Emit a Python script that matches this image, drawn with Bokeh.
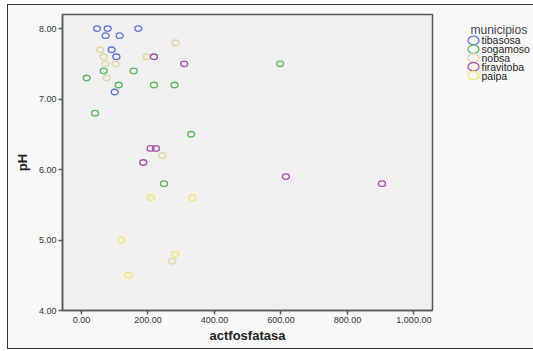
from bokeh.plotting import figure
from bokeh.layouts import row
from bokeh.models import Range1d, FixedTicker, NumeralTickFormatter, ColumnDataSource
from bokeh.core.properties import value
from bokeh.embed import file_html
from bokeh.resources import INLINE

municipios = ["tibasosa", "sogamoso", "nobsa", "firavitoba", "paipa"]
colors = ["#6277d4", "#5ab85f", "#ddd6a6", "#a650a8", "#f0e672"]

tibasosa_x = [47, 79, 171, 73, 115, 91, 105, 100]
tibasosa_y = [8.0, 8.0, 8.0, 7.9, 7.9, 7.7, 7.6, 7.1]
sogamoso_x = [16, 67, 157, 112, 218, 280, 41, 330, 598, 248]
sogamoso_y = [7.3, 7.4, 7.4, 7.2, 7.2, 7.2, 6.8, 6.5, 7.5, 5.8]
nobsa_x = [57, 67, 72, 103, 76, 196, 283, 244, 273]
nobsa_y = [7.7, 7.6, 7.5, 7.5, 7.3, 7.6, 7.8, 6.2, 4.7]
firavitoba_x = [218, 309, 208, 224, 186, 615, 904]
firavitoba_y = [7.6, 7.5, 6.3, 6.3, 6.1, 5.9, 5.8]
paipa_x = [209, 334, 120, 282, 142]
paipa_y = [5.6, 5.6, 5.0, 4.8, 4.5]

series = [(tibasosa_x, tibasosa_y), (sogamoso_x, sogamoso_y), (nobsa_x, nobsa_y),
          (firavitoba_x, firavitoba_y), (paipa_x, paipa_y)]

x_ticks = [0, 200, 400, 600, 800, 1000]
y_ticks = [4, 5, 6, 7, 8]

BG_OUT = "#f8f8f8"

p = figure(width=426, height=343, output_backend="svg", toolbar_location=None,
           x_range=Range1d(-57, 1056), y_range=Range1d(4.0, 8.2),
           min_border_left=54, min_border_top=9, min_border_right=2, min_border_bottom=38)
p.background_fill_color = "#f0f0f0"
p.border_fill_color = BG_OUT
p.outline_line_color = "#5a5a5a"
p.outline_line_width = 1.5
p.xgrid.visible = False
p.ygrid.visible = False

for name, col, (xs, ys) in zip(municipios, colors, series):
    src = ColumnDataSource(dict(x=xs, y=ys))
    p.ellipse("x", "y", source=src, width=7, height=5.5,
              width_units="screen", height_units="screen",
              fill_alpha=0, line_color=col, line_width=1.4)

for ax in (p.xaxis[0], p.yaxis[0]):
    ax.axis_line_color = "#5a5a5a"
    ax.axis_line_width = 1.5
    ax.major_tick_line_color = "#5a5a5a"
    ax.major_tick_line_width = 1.5
    ax.major_tick_out = 4
    ax.major_tick_in = 0
    ax.minor_tick_line_color = None
    ax.major_label_text_font = "Liberation Sans"
    ax.major_label_text_font_size = "9px"
    ax.major_label_text_color = "#333333"
    ax.axis_label_text_font = "Liberation Sans"
    ax.axis_label_text_font_size = "13px"
    ax.axis_label_text_font_style = "bold"
    ax.axis_label_text_color = "#222222"
    ax.formatter = NumeralTickFormatter(format="0,0.00")

p.xaxis[0].ticker = FixedTicker(ticks=x_ticks)
p.yaxis[0].ticker = FixedTicker(ticks=y_ticks)
p.xaxis.axis_label = "actfosfatasa"
p.yaxis.axis_label = "pH"
p.xaxis.major_label_standoff = 2
p.xaxis.axis_label_standoff = 2
p.yaxis.major_label_standoff = 2
p.yaxis.axis_label_standoff = 6

# legend panel
lg = figure(width=99, height=343, output_backend="svg", toolbar_location=None,
            x_range=Range1d(0, 99), y_range=Range1d(343, 0),
            min_border=0, x_axis_type=None, y_axis_type=None)
lg.background_fill_color = BG_OUT
lg.border_fill_color = BG_OUT
lg.outline_line_color = None
lg.xgrid.visible = False
lg.ygrid.visible = False

item_y = [30 + i * 10.2 for i in range(len(municipios))]
leg_src = ColumnDataSource(dict(gx=[39] * len(municipios), lx=[47] * len(municipios),
                                y=item_y, label=municipios, color=colors))
lg.ellipse("gx", "y", source=leg_src, width=11, height=8.5,
           width_units="screen", height_units="screen",
           fill_alpha=0, line_color="color", line_width=1.3)
lg.text("lx", "y", text="label", source=leg_src, text_font=value("Liberation Sans"),
        text_font_size="10.5px", text_baseline="middle", text_align="left",
        text_color="#222222")
lg.text(x=[36], y=[18], text=["municipios"], text_font=value("Liberation Sans"),
        text_font_size="12px", text_baseline="middle", text_align="left",
        text_color="#444444")

layout = row(p, lg, spacing=0)
layout.styles = {"margin-left": "7px", "margin-top": "4px", "border": "1px solid #333333",
                 "background-color": BG_OUT}

open("out.html", "w").write(file_html(layout, INLINE))
